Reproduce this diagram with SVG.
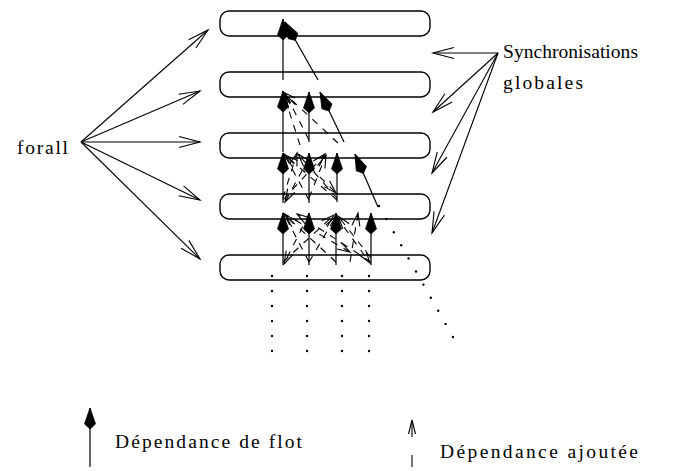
<svg xmlns="http://www.w3.org/2000/svg" width="687" height="471" viewBox="0 0 687 471">
<style>
.box{fill:none;stroke:#000;stroke-width:1.4}
.flow{fill:none;stroke:#000;stroke-width:1.2;marker-end:url(#fh)}
.add{fill:none;stroke:#000;stroke-width:1.1;stroke-dasharray:7 7;marker-end:url(#oh)}
.dash{fill:none;stroke:#000;stroke-width:1.1}
.big{fill:none;stroke:#000;stroke-width:1.1;marker-end:url(#bh)}
.t{font-family:"Liberation Serif","DejaVu Serif",serif;font-size:19.5px;fill:#000}
.dot{fill:#000}
</style>
<defs>
<marker id="fh" markerUnits="userSpaceOnUse" orient="auto" refX="0" refY="0" markerWidth="30" markerHeight="30" viewBox="-25 -10 30 20" overflow="visible">
<path d="M0,0 L-16,-5.5 L-21,0 L-16,5.5 Z" fill="#000" stroke="#000" stroke-width="0.8"/>
</marker>
<marker id="oh" markerUnits="userSpaceOnUse" orient="auto" refX="0" refY="0" markerWidth="30" markerHeight="30" viewBox="-25 -10 30 20" overflow="visible">
<path d="M-13,-4 L0,0 L-13,4" fill="none" stroke="#000" stroke-width="1.1"/>
</marker>
<marker id="bh" markerUnits="userSpaceOnUse" orient="auto" refX="0" refY="0" markerWidth="30" markerHeight="30" viewBox="-25 -10 30 20" overflow="visible">
<path d="M-21,-5.5 L0,0 L-21,5.5" fill="none" stroke="#000" stroke-width="1.1"/>
</marker>
</defs>

<g id="step1"><rect class="box" x="220" y="11" width="210" height="25" rx="9"/></g>
<g id="step2"><rect class="box" x="220" y="72" width="210" height="25" rx="9"/></g>
<g id="step3"><rect class="box" x="220" y="133" width="210" height="25" rx="9"/></g>
<g id="step4"><rect class="box" x="220" y="194" width="210" height="25" rx="9"/></g>
<g id="step5"><rect class="box" x="220" y="255" width="210" height="25" rx="9"/></g>

<g id="forall"><text class="t" x="17" y="154" textLength="51" lengthAdjust="spacing">forall</text></g>
<g id="sync">
<text class="t" x="503" y="58" textLength="135" lengthAdjust="spacing">Synchronisations</text>
<text class="t" x="503" y="89" textLength="80" lengthAdjust="spacing">globales</text>
</g>

<g id="connectors">
<line class="big" x1="81" y1="142" x2="208" y2="30"/>
<line class="big" x1="81" y1="142" x2="200" y2="91"/>
<line class="big" x1="81" y1="142" x2="200" y2="142"/>
<line class="big" x1="81" y1="142" x2="200" y2="200"/>
<line class="big" x1="81" y1="142" x2="200" y2="259"/>
<line class="big" x1="498" y1="53" x2="433" y2="53"/>
<line class="big" x1="498" y1="53" x2="433" y2="112"/>
<line class="big" x1="498" y1="53" x2="432" y2="173"/>
<line class="big" x1="498" y1="53" x2="432" y2="233"/>

<line class="flow" x1="283" y1="80" x2="283" y2="19"/>
<line class="flow" x1="318" y1="80" x2="285" y2="22"/>

<line class="flow" x1="283" y1="152" x2="283" y2="91"/>
<line class="flow" x1="309" y1="142" x2="309" y2="92"/>
<line class="flow" x1="344" y1="142" x2="320" y2="92"/>
<line class="add" x1="338" y1="143" x2="283" y2="92"/>
<line class="add" x1="300" y1="145" x2="283" y2="92"/>
<line class="add" x1="309" y1="140" x2="286" y2="95"/>

<line class="flow" x1="283" y1="203" x2="283" y2="153"/>
<line class="flow" x1="309" y1="203" x2="309" y2="153"/>
<line class="flow" x1="337" y1="202" x2="337" y2="153"/>
<line class="flow" x1="378" y1="207" x2="355" y2="154"/>
<line class="add" x1="309" y1="200" x2="284" y2="154"/>
<line class="add" x1="337" y1="200" x2="285" y2="155"/>
<line class="add" x1="283" y1="198" x2="297" y2="153"/>
<line class="add" x1="337" y1="198" x2="298" y2="154"/>
<line class="add" x1="283" y1="200" x2="325" y2="154"/>
<line class="add" x1="309" y1="198" x2="326" y2="155"/>
<line class="add" x1="309" y1="158" x2="285" y2="202"/>
<line class="add" x1="300" y1="157" x2="336" y2="193"/>

<line class="flow" x1="283" y1="265" x2="283" y2="213"/>
<line class="flow" x1="309" y1="265" x2="309" y2="213"/>
<line class="flow" x1="336" y1="265" x2="336" y2="213"/>
<line class="flow" x1="371" y1="265" x2="371" y2="213"/>
<line class="add" x1="309" y1="262" x2="284" y2="214"/>
<line class="add" x1="336" y1="262" x2="285" y2="215"/>
<line class="add" x1="371" y1="262" x2="297" y2="214"/>
<line class="add" x1="283" y1="262" x2="334" y2="215"/>
<line class="add" x1="309" y1="262" x2="336" y2="216"/>
<line class="add" x1="350" y1="262" x2="358" y2="213"/>
<line class="add" x1="371" y1="258" x2="338" y2="216"/>
<line class="add" x1="309" y1="214" x2="284" y2="264"/>
<line class="add" x1="336" y1="216" x2="370" y2="263"/>
<line class="add" x1="283" y1="213" x2="350" y2="252"/>

<line class="flow" x1="90" y1="467" x2="90" y2="408"/>
<line class="dash" x1="412" y1="467" x2="412" y2="455"/>
<line class="dash" x1="412" y1="437" x2="412" y2="421"/>
<path class="dash" d="M408.5,434 L412,420 L415.5,434"/>
</g>

<g id="dots">
<circle class="dot" cx="272" cy="276" r="1.2"/><circle class="dot" cx="272" cy="291" r="1.2"/><circle class="dot" cx="272" cy="306" r="1.2"/><circle class="dot" cx="272" cy="321" r="1.2"/><circle class="dot" cx="272" cy="336" r="1.2"/><circle class="dot" cx="272" cy="351" r="1.2"/>
<circle class="dot" cx="307" cy="276" r="1.2"/><circle class="dot" cx="307" cy="291" r="1.2"/><circle class="dot" cx="307" cy="306" r="1.2"/><circle class="dot" cx="307" cy="321" r="1.2"/><circle class="dot" cx="307" cy="336" r="1.2"/><circle class="dot" cx="307" cy="351" r="1.2"/>
<circle class="dot" cx="342" cy="276" r="1.2"/><circle class="dot" cx="342" cy="291" r="1.2"/><circle class="dot" cx="342" cy="306" r="1.2"/><circle class="dot" cx="342" cy="321" r="1.2"/><circle class="dot" cx="342" cy="336" r="1.2"/><circle class="dot" cx="342" cy="351" r="1.2"/>
<circle class="dot" cx="369" cy="276" r="1.2"/><circle class="dot" cx="369" cy="291" r="1.2"/><circle class="dot" cx="369" cy="306" r="1.2"/><circle class="dot" cx="369" cy="321" r="1.2"/><circle class="dot" cx="369" cy="336" r="1.2"/><circle class="dot" cx="369" cy="351" r="1.2"/>
<circle class="dot" cx="379" cy="206" r="1.2"/><circle class="dot" cx="386.4" cy="219.1" r="1.2"/><circle class="dot" cx="393.8" cy="232.2" r="1.2"/><circle class="dot" cx="401.2" cy="245.3" r="1.2"/><circle class="dot" cx="408.6" cy="258.4" r="1.2"/><circle class="dot" cx="416" cy="271.5" r="1.2"/><circle class="dot" cx="423.4" cy="284.6" r="1.2"/><circle class="dot" cx="430.8" cy="297.7" r="1.2"/><circle class="dot" cx="438.2" cy="310.8" r="1.2"/><circle class="dot" cx="445.6" cy="323.9" r="1.2"/><circle class="dot" cx="453" cy="337" r="1.2"/>
</g>

<g id="legend">
<text class="t" x="115" y="448" textLength="187" lengthAdjust="spacing">Dépendance de flot</text>
<text class="t" x="440" y="458" textLength="198" lengthAdjust="spacing">Dépendance ajoutée</text>
</g>
</svg>
